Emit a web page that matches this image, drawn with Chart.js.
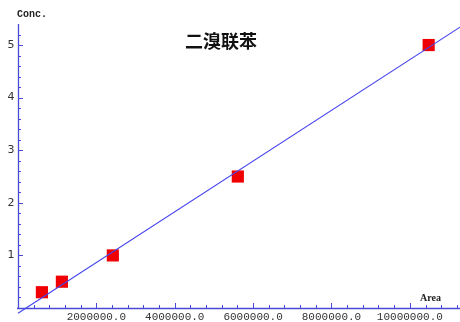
<!DOCTYPE html>
<html>
<head>
<meta charset="utf-8">
<script src="https://cdn.jsdelivr.net/npm/chart.js@4/dist/chart.umd.min.js"></script>
<style>
  html, body { margin: 0; padding: 0; background: #fff; }
  #wrap { width: 460px; height: 322px; }
</style>
</head>
<body>
<div id="wrap"><canvas id="calib"></canvas></div>
<script>
// calibration points (Area, Conc.)
const areas = [610000, 1120000, 2420000, 5610000, 10480000];
const concs = [0.3, 0.5, 1.0, 2.5, 5.0];

// fitted line end points
const fitAreas = [0, 11280000];
const fitConcs = [-0.1, 5.34];

const xTicks = [2000000, 4000000, 6000000, 8000000, 10000000];
const xTickLabels = ['2000000.0', '4000000.0', '6000000.0', '8000000.0', '10000000.0'];
const yTicks = [1, 2, 3, 4, 5];
const yTickLabels = ['1', '2', '3', '4', '5'];
const xMinorStep = 400000;
const yMinorStep = 0.2;

const title = '二溴联苯';
const xTitle = 'Area';
const yTitle = 'Conc.';

const axisColor = '#4a4ad8';

// hand drawn axes, mathematica style (ticks inside)
const axesPlugin = {
  id: 'axes',
  beforeDatasetsDraw(chart) {
    const { ctx, chartArea, scales } = chart;
    const x = scales.x, y = scales.y;
    const x0 = x.getPixelForValue(0);
    const y0 = y.getPixelForValue(0);
    ctx.save();
    ctx.strokeStyle = axisColor;
    ctx.lineWidth = 1.3;
    ctx.beginPath();
    ctx.moveTo(x0 - 1, y0 + 0.5);
    ctx.lineTo(chartArea.right, y0 + 0.5);
    ctx.moveTo(x0 + 0.5, y0);
    ctx.lineTo(x0 + 0.5, chartArea.top);
    ctx.stroke();

    ctx.lineWidth = 1;
    ctx.beginPath();
    for (let v = xMinorStep; v <= x.max; v += xMinorStep) {
      const px = Math.round(x.getPixelForValue(v)) + 0.5;
      const major = xTicks.some((t) => Math.abs(t - v) < 1);
      ctx.moveTo(px, y0);
      ctx.lineTo(px, y0 - (major ? 5 : 3));
    }
    for (let v = yMinorStep; v <= y.max; v += yMinorStep) {
      const py = Math.round(y.getPixelForValue(v)) + 0.5;
      const major = yTicks.some((t) => Math.abs(t - v) < 0.01);
      ctx.moveTo(x0, py);
      ctx.lineTo(x0 + (major ? 5 : 3), py);
    }
    ctx.stroke();

    ctx.fillStyle = '#333';
    ctx.font = '11px "Liberation Mono", monospace';
    ctx.textAlign = 'center';
    ctx.textBaseline = 'middle';
    xTicks.forEach((t, i) => {
      ctx.fillText(xTickLabels[i], x.getPixelForValue(t), y0 + 9);
    });
    ctx.font = '11px "DejaVu Sans", sans-serif';
    yTicks.forEach((t, i) => {
      ctx.fillText(yTickLabels[i], x0 - 7, y.getPixelForValue(t));
    });

    ctx.fillStyle = '#222';
    ctx.font = 'bold 10px "Liberation Mono", monospace';
    ctx.textAlign = 'left';
    ctx.fillText(yTitle, x0 - 1, 14);
    ctx.font = 'bold 10px "Liberation Serif", serif';
    ctx.fillText(xTitle, 420, y0 - 10);

    ctx.fillStyle = '#111';
    ctx.font = 'bold 18px "Noto Sans CJK SC", sans-serif';
    ctx.textAlign = 'center';
    ctx.fillText(title, 221, 41);
    ctx.restore();
  }
};

new Chart(document.querySelector('#calib'), {
  type: 'scatter',
  data: {
    datasets: [{
      type: 'line',
      data: fitAreas.map((a, i) => ({ x: a, y: fitConcs[i] })),
      borderColor: '#4444ee',
      borderWidth: 1.1,
      pointRadius: 0,
      clip: 6,
      order: 1
    }, {
      data: areas.map((a, i) => ({ x: a, y: concs[i] })),
      pointStyle: 'rect',
      pointRadius: 8.6,
      backgroundColor: '#f00000',
      borderWidth: 0,
      order: 2
    }]
  },
  options: {
    responsive: true,
    maintainAspectRatio: false,
    animation: false,
    layout: { autoPadding: false, padding: { left: 18, right: 0, top: 24, bottom: 14 } },
    plugins: { legend: { display: false }, tooltip: { enabled: false } },
    scales: {
      x: { type: 'linear', display: false, min: 0, max: 11280000 },
      y: { type: 'linear', display: false, min: 0, max: 5.4 }
    }
  },
  plugins: [axesPlugin]
});
</script>
</body>
</html>
